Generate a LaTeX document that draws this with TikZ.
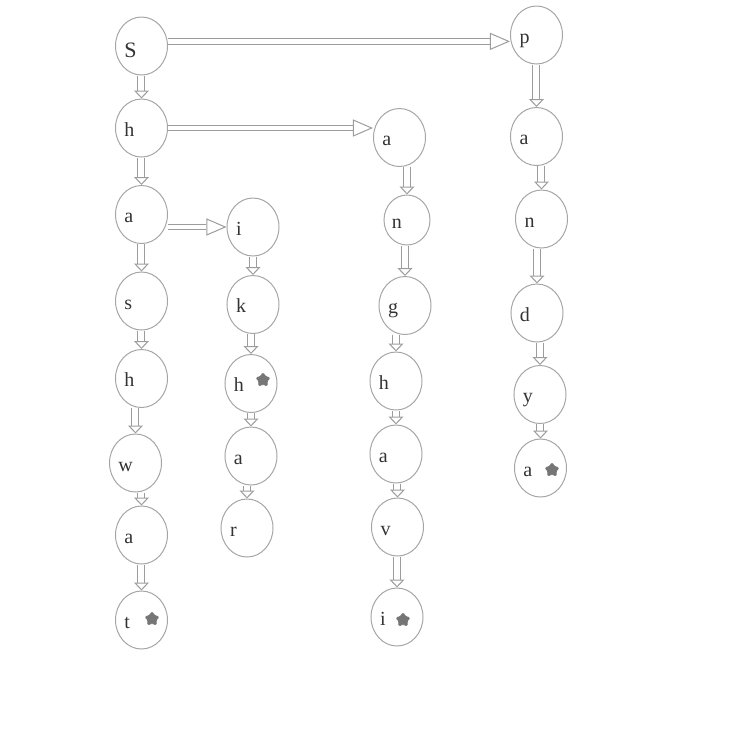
\documentclass[tikz,border=0pt]{standalone}
\usepackage{fontspec}
\setmainfont{Liberation Serif}
\usetikzlibrary{shapes.geometric,arrows.meta}

\definecolor{ringgray}{HTML}{A6A6A6}
\definecolor{linkgray}{HTML}{9C9C9C}
\definecolor{stargray}{HTML}{767676}
\definecolor{lettergray}{HTML}{333333}

\tikzset{
  letter/.style={ellipse, draw=ringgray, line width=0.5pt, minimum width=26pt, minimum height=29pt,
    inner sep=0pt, text width=17pt, align=left, text height=8pt, text depth=0pt,
    font=\fontsize{10}{12}\selectfont, text=lettergray},
  endmark/.style={star, star points=5, star point ratio=1.8, draw=stargray, fill=stargray,
    rounded corners=0.7pt, minimum size=7.5pt, inner sep=0pt},
  down/.style={draw=white, line width=0.2pt,
    -{Triangle[color=linkgray, open, length=4pt, width=7.5pt, line width=0.5pt]},
    preaction={draw=linkgray, line width=0.5pt, double=white, double distance=3pt, shorten >=4pt, -}},
  across/.style={draw=white, line width=0.2pt,
    -{Triangle[color=linkgray, open, length=10pt, width=8.5pt, line width=0.5pt]},
    preaction={draw=linkgray, line width=0.5pt, double=white, double distance=2.2pt, shorten >=10pt, -}},
}

\begin{document}
\begin{tikzpicture}[x=0.5pt, y=-0.5pt]
	\useasboundingbox (0,0) rectangle (736,736);

	% left column
	\node[letter, text height=11pt, font=\fontsize{11}{13}\selectfont] (root) at (141.5,46) {S};
	\node[letter] (a1) at (141.5,128) {h};
	\node[letter] (a2) at (141.5,214.5) {a};
	\node[letter] (a3) at (141.5,301) {s};
	\node[letter] (a4) at (141.5,378.5) {h};
	\node[letter] (a5) at (135.5,463) {w};
	\node[letter] (a6) at (141.5,535) {a};
	\node[letter] (a7) at (141.5,620) {t};

	% second column
	\node[letter] (b1) at (253,227) {i};
	\node[letter] (b2) at (253,304.5) {k};
	\node[letter] (b3) at (251,383.5) {h};
	\node[letter] (b4) at (251,456) {a};
	\node[letter] (b5) at (247,528) {r};

	% third column
	\node[letter] (c1) at (399.5,137.5) {a};
	\node[letter, minimum width=23pt, minimum height=25pt, text width=15pt] (c2) at (407,220) {n};
	\node[letter] (c3) at (405,305.5) {g};
	\node[letter] (c4) at (396,381) {h};
	\node[letter] (c5) at (396,454) {a};
	\node[letter] (c6) at (397.5,527) {v};
	\node[letter] (c7) at (397,617) {i};

	% right column
	\node[letter] (d1) at (536.5,35) {p};
	\node[letter] (d2) at (536.5,136.5) {a};
	\node[letter] (d3) at (541.5,219) {n};
	\node[letter] (d4) at (537,313) {d};
	\node[letter] (d5) at (540,394.5) {y};
	\node[letter] (d6) at (540.5,468) {a};

	% word ends
	\node[endmark] (a7-end) at ([shift={(10.5,-1)}]a7.center) {};
	\node[endmark] (b3-end) at ([shift={(12,-3.5)}]b3.center) {};
	\node[endmark] (c7-end) at ([shift={(6,3)}]c7.center) {};
	\node[endmark] (d6-end) at ([shift={(11.5,2)}]d6.center) {};

	\draw[across] (root.10) -- (root.10 -| d1.west);
	\draw[across] (a1.east) -- (a1.east -| c1.west);
	\draw[across] (a2.east |- b1.west) -- (b1.west);

	\draw[down] (a1.north |- root.south) -- (a1);
	\draw[down] (a2.north |- a1.south) -- (a2);
	\draw[down] (a3.north |- a2.south) -- (a3);
	\draw[down] (a4.north |- a3.south) -- (a4);
	\draw[down] (a5.north |- a4.south) -- (a5);
	\draw[down] (a6.north |- a5.south) -- (a6);
	\draw[down] (a7.north |- a6.south) -- (a7);

	\draw[down] (b2.north |- b1.south) -- (b2);
	\draw[down] (b3.north |- b2.south) -- (b3);
	\draw[down] (b4.north |- b3.south) -- (b4);
	\draw[down] (b5.north |- b4.south) -- (b5);

	\draw[down] (c2.north |- c1.south) -- (c2);
	\draw[down] (c3.north |- c2.south) -- (c3);
	\draw[down] (c4.north |- c3.south) -- (c4);
	\draw[down] (c5.north |- c4.south) -- (c5);
	\draw[down] (c6.north |- c5.south) -- (c6);
	\draw[down] (c7.north |- c6.south) -- (c7);

	\draw[down] (d2.north |- d1.south) -- (d2);
	\draw[down] (d3.north |- d2.south) -- (d3);
	\draw[down] (d4.north |- d3.south) -- (d4);
	\draw[down] (d5.north |- d4.south) -- (d5);
	\draw[down] (d6.north |- d5.south) -- (d6);
\end{tikzpicture}
\end{document}
